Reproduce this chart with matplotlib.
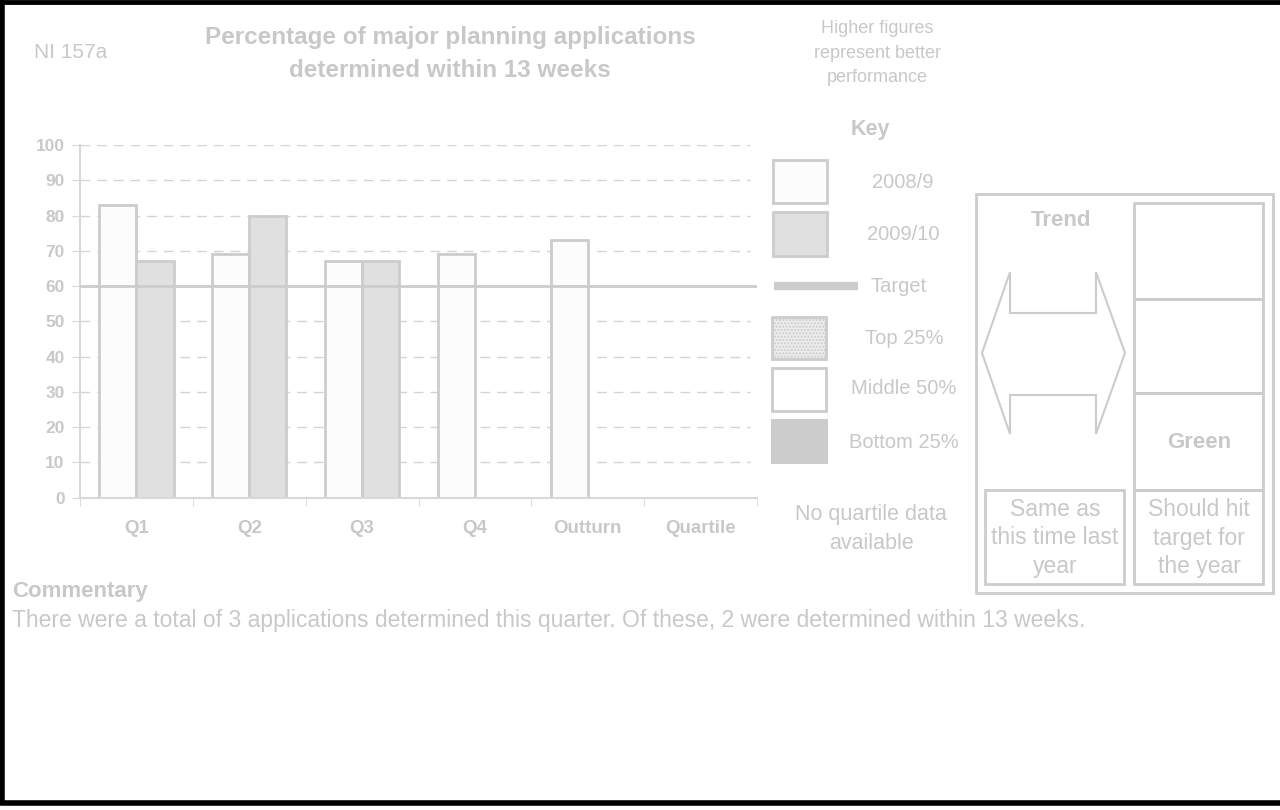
import numpy as np
import matplotlib.pyplot as plt
from matplotlib.patches import Rectangle, Polygon

plt.rcParams['font.family'] = ['Liberation Sans', 'DejaVu Sans']

# data
categories = ["Q1", "Q2", "Q3", "Q4", "Outturn", "Quartile"]
vals_0809 = [83, 69, 67, 69, 73, np.nan]
vals_0910 = [67, 80, 67, np.nan, np.nan, np.nan]
target = 60
yticks = list(range(0, 101, 10))

GREY = "#c8c8c8"
EDGE = "#cccccc"
W, H = 1280, 810

fig = plt.figure(figsize=(12.8, 8.1), dpi=100)

# overlay in pixel coordinates for all the furniture
ov = fig.add_axes([0, 0, 1, 1])
ov.set_xlim(0, W)
ov.set_ylim(H, 0)
ov.axis("off")

# chart axes
x0, x1, ytop, ybot = 80, 757, 145, 497.7
ax = fig.add_axes([x0 / W, (H - ybot) / H, (x1 - x0) / W, (ybot - ytop) / H])
ax.set_facecolor("none")
ax.set_xlim(0, 6)
ax.set_ylim(0, 100)

for y in yticks[1:]:
    if y != target:
        ax.axhline(y, color="#d4d4d4", lw=1, ls=(0, (7, 5)), xmax=0.99, zorder=0)
ax.axhline(target, color=EDGE, lw=2, zorder=3)

x = np.arange(len(categories)) + 0.5
bw = 0.33
ax.bar(x - bw / 2, vals_0809, bw, color="#fcfcfc", edgecolor=EDGE, lw=2, zorder=2)
ax.bar(x + bw / 2, vals_0910, bw, color="#e0e0e0", edgecolor=EDGE, lw=2, zorder=2)

for s in ["top", "right"]:
    ax.spines[s].set_visible(False)
for s in ["left", "bottom"]:
    ax.spines[s].set_color("#d8d8d8")
    ax.spines[s].set_linewidth(1.5)

ax.set_yticks(yticks)
ax.set_yticklabels([str(v) for v in yticks], fontsize=12.5, fontweight="bold", color=GREY)
ax.tick_params(axis="y", length=6, color="#d8d8d8", pad=5)
ax.set_xticks(x)
ax.set_xticklabels(categories, fontsize=13.5, fontweight="bold", color=GREY)
ax.tick_params(axis="x", length=0, pad=16)
ax.set_xticks(np.arange(0, 7), minor=True)
ax.tick_params(axis="x", which="minor", length=6, color="#d8d8d8")

# header texts
ov.text(34, 52, "NI 157a", fontsize=15, color=GREY, va="center")
ov.text(450, 54, "Percentage of major planning applications\ndetermined within 13 weeks",
        fontsize=17.5, fontweight="bold", color=GREY, ha="center", va="center", linespacing=1.6)
ov.text(877, 53, "Higher figures\nrepresent better\nperformance", fontsize=13,
        color=GREY, ha="center", va="center", linespacing=1.56)

# key
ov.text(870, 129, "Key", fontsize=15.5, fontweight="bold", color=GREY, ha="center", va="center")
ov.add_patch(Rectangle((773, 160), 54, 43, fc="#fcfcfc", ec=EDGE, lw=2))
ov.text(903, 182, "2008/9", fontsize=14.5, color=GREY, ha="center", va="center")
ov.add_patch(Rectangle((773, 212), 54, 44, fc="#e0e0e0", ec=EDGE, lw=2))
ov.text(903, 235, "2009/10", fontsize=14.5, color=GREY, ha="center", va="center")
ov.plot([774, 858], [286, 286], color=EDGE, lw=6, solid_capstyle="butt")
ov.text(899, 287, "Target", fontsize=14.5, color=GREY, ha="center", va="center")
ov.add_patch(Rectangle((772, 317), 54, 42, fc="#ececec", ec=EDGE, lw=2, hatch="....."))
ov.text(904, 338, "Top 25%", fontsize=14.5, color=GREY, ha="center", va="center")
ov.add_patch(Rectangle((772, 368), 54, 43, fc="white", ec=EDGE, lw=2))
ov.text(904, 389, "Middle 50%", fontsize=14.5, color=GREY, ha="center", va="center")
ov.add_patch(Rectangle((771, 419), 57, 45, fc="#cccccc", ec="none"))
ov.text(904, 442, "Bottom 25%", fontsize=14.5, color=GREY, ha="center", va="center")
ov.text(871, 529, "No quartile data\navailable", fontsize=15.5, color=GREY,
        ha="center", va="center", linespacing=1.45)

# trend / RAG panel
ov.add_patch(Rectangle((976, 194), 297, 399, fc="none", ec=EDGE, lw=2))
ov.add_patch(Rectangle((1134, 203), 129, 96, fc="none", ec=EDGE, lw=2))
ov.add_patch(Rectangle((1134, 299), 129, 94, fc="none", ec=EDGE, lw=2))
ov.add_patch(Rectangle((1134, 393), 129, 97, fc="none", ec=EDGE, lw=2))
ov.add_patch(Rectangle((985, 490), 139, 94, fc="none", ec=EDGE, lw=2))
ov.add_patch(Rectangle((1134, 490), 129, 94, fc="none", ec=EDGE, lw=2))
arrow = [(982, 353), (1010, 272), (1010, 313), (1096, 313), (1096, 272), (1125, 353),
         (1096, 434), (1096, 395), (1010, 395), (1010, 434)]
ov.add_patch(Polygon(arrow, closed=True, fc="none", ec=EDGE, lw=1.5))
ov.text(1061, 221, "Trend", fontsize=16, fontweight="bold", color=GREY, ha="center", va="center")
ov.text(1199, 442, "Green", fontsize=16, fontweight="bold", color=GREY, ha="center", va="center")
ov.text(1055, 538, "Same as\nthis time last\nyear", fontsize=16.5, color=GREY,
        ha="center", va="center", linespacing=1.3)
ov.text(1199, 538, "Should hit\ntarget for\nthe year", fontsize=16.5, color=GREY,
        ha="center", va="center", linespacing=1.3)

# commentary
ov.text(12, 591, "Commentary", fontsize=16, fontweight="bold", color=GREY, va="center")
ov.text(12, 620, "There were a total of 3 applications determined this quarter. "
        "Of these, 2 were determined within 13 weeks.", fontsize=16.5, color=GREY, va="center")

# frame (top, left, bottom)
ov.plot([2, 2], [0, 803], color="black", lw=4, solid_capstyle="butt")
ov.plot([0, W], [1.5, 1.5], color="black", lw=3.5)
ov.plot([0, W], [803, 803], color="black", lw=4)

fig.savefig("out.png", dpi=100)
